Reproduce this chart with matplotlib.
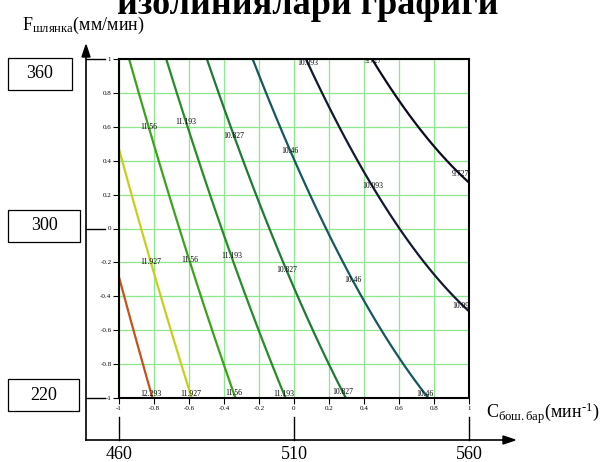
import numpy as np
import matplotlib
matplotlib.use("Agg")
from matplotlib import pyplot as plt
from matplotlib.patches import Rectangle, Polygon

plt.rcParams['font.family'] = ['Liberation Serif', 'DejaVu Serif']
plt.rcParams['mathtext.fontset'] = 'custom'
plt.rcParams['mathtext.rm'] = 'Liberation Serif'
plt.rcParams['mathtext.it'] = 'Liberation Serif:italic'
plt.rcParams['axes.unicode_minus'] = False

# contour levels and colours (low -> high)
levels = [9.727, 10.093, 10.46, 10.827, 11.193, 11.56, 11.927, 12.293]
level_colors = ['#0b0b1e', '#121a30', '#16585c', '#1e7a34',
                '#278c28', '#3ca21e', '#c6cf1e', '#c2531c']

# points: coded x, coded y, level value
pt_x = [-1.0, -0.8,
        -1.0, -0.886, -0.825, -0.58,
        -0.94, -0.82, -0.67, -0.583, -0.34,
        -0.73, -0.61, -0.44, -0.35, -0.04,
        -0.50, -0.337, -0.04, 0.27,
        -0.24, -0.02, 0.34, 0.76,
        0.07, 0.246, 0.45, 0.61, 1.0,
        0.43, 0.72, 0.937, 1.0]
pt_y = [-0.27, -1.0,
        0.45, 0.0, -0.2, -1.0,
        1.0, 0.6, 0.0, -0.18, -1.0,
        1.0, 0.628, 0.0, -0.156, -1.0,
        1.0, 0.552, -0.245, -1.0,
        1.0, 0.46, -0.30, -1.0,
        1.0, 0.66, 0.25, 0.0, -0.46,
        1.0, 0.56, 0.33, 0.27]
pt_f = [12.293] * 2 + [11.927] * 4 + [11.56] * 5 + [11.193] * 5 + \
       [10.827] * 4 + [10.46] * 4 + [10.093] * 5 + [9.727] * 4

# where MathCAD put the inline labels
label_pos = [(-0.8, -0.97),
             (-0.82, -0.2), (-0.58, -0.97),
             (-0.82, 0.6), (-0.58, -0.18), (-0.35, -0.97),
             (-0.61, 0.63), (-0.35, -0.16), (-0.05, -0.97),
             (-0.34, 0.55), (-0.04, -0.245), (0.27, -0.97),
             (-0.02, 0.46), (0.34, -0.30), (0.76, -0.97),
             (0.07, 0.97), (0.45, 0.25), (0.97, -0.45),
             (0.43, 0.97), (0.95, 0.32)]

ticks = [-1, -0.8, -0.6, -0.4, -0.2, 0, 0.2, 0.4, 0.6, 0.8, 1]
tick_labels = ['-1', '-0.8', '-0.6', '-0.4', '-0.2', '0',
               '0.2', '0.4', '0.6', '0.8', '1']

# natural values of the factors
y_nat = [360, 300, 220]
y_nat_coded = [1, 0, -1]
x_nat = [460, 510, 560]
x_nat_coded = [-1, 0, 1]

title = 'изолиниялари графиги'
y_title = r'F$_{\mathrm{шлянка}}$(мм/мин)'
x_title = 'C$_{\\mathrm{бош.бар}}$(мин$^{\\mathrm{\u20101}}$)'

# fit a quadratic response surface through the read points
px, py, pf = np.array(pt_x), np.array(pt_y), np.array(pt_f)
A = np.column_stack([np.ones_like(px), px, py, px**2, px*py, py**2])
coef, *_ = np.linalg.lstsq(A, pf, rcond=None)
gx, gy = np.meshgrid(np.linspace(-1, 1, 301), np.linspace(-1, 1, 301))
Z = (coef[0] + coef[1]*gx + coef[2]*gy + coef[3]*gx**2
     + coef[4]*gx*gy + coef[5]*gy**2)

W, H = 609, 462
fig = plt.figure(figsize=(W / 100, H / 100), dpi=100)

# plot box in pixels
X0, X1, Y0, Y1 = 119, 469, 59, 398

ax = fig.add_axes([X0 / W, 1 - Y1 / H, (X1 - X0) / W, (Y1 - Y0) / H])
ax.set_xlim(-1, 1)
ax.set_ylim(-1, 1)
ax.set_xticks(ticks)
ax.set_yticks(ticks)
ax.set_xticklabels(tick_labels)
ax.set_yticklabels(tick_labels)
ax.tick_params(labelsize=5, length=4, width=0.8, pad=1.5)
ax.grid(True, color='#8fe68f', lw=0.9)
ax.set_axisbelow(True)
for s in ax.spines.values():
    s.set_linewidth(1.5)

cs = ax.contour(gx, gy, Z, levels=levels, colors=level_colors, linewidths=1.6)
txts = ax.clabel(cs, levels, manual=label_pos, inline=False, fontsize=5.5,
                 colors='black', fmt=lambda v: '{:.3f}'.format(v).rstrip('0'))
for t in txts:
    t.set_rotation(0)

# outer frame with natural scales
ov = fig.add_axes([0, 0, 1, 1], zorder=-1)
ov.set_xlim(0, W)
ov.set_ylim(H, 0)
ov.axis('off')

AX_X, AX_Y = 86, 440
ov.plot([AX_X, AX_X], [AX_Y, 55], color='black', lw=1.2)
ov.plot([AX_X, 505], [AX_Y, AX_Y], color='black', lw=1.2)
ov.add_patch(Polygon([[AX_X - 4, 57], [AX_X + 4, 57], [AX_X, 45]],
                     closed=True, color='black'))
ov.add_patch(Polygon([[503, AX_Y - 4], [503, AX_Y + 4], [515, AX_Y]],
                     closed=True, color='black'))


def coded_to_py(c):
    return Y1 - (c + 1) / 2 * (Y1 - Y0)


def coded_to_px(c):
    return X0 + (c + 1) / 2 * (X1 - X0)


box_right = [72, 80, 79]
for val, c, br in zip(y_nat, y_nat_coded, box_right):
    yy = coded_to_py(c)
    ov.plot([AX_X, 105], [yy, yy], color='black', lw=1)
    cy = yy + 15 if c == 1 else yy - 3
    ov.add_patch(Rectangle((8, cy - 16), br - 8, 32, fill=False,
                           ec='black', lw=0.9))
    ov.text((8 + br) / 2, cy, str(val), fontsize=13, ha='center', va='center')

for val, c in zip(x_nat, x_nat_coded):
    xx = coded_to_px(c)
    ov.plot([xx, xx], [417, AX_Y], color='black', lw=1)
    ov.text(xx, 446, str(val), fontsize=13, ha='center', va='top')

ov.text(22, 25, y_title, fontsize=13, ha='left', va='center')
ov.text(486, 413, x_title, fontsize=13, ha='left', va='center')
ov.text(308, 14, title, fontsize=26, fontweight='bold', ha='center',
        va='baseline')

fig.savefig('out.png', dpi=100)
